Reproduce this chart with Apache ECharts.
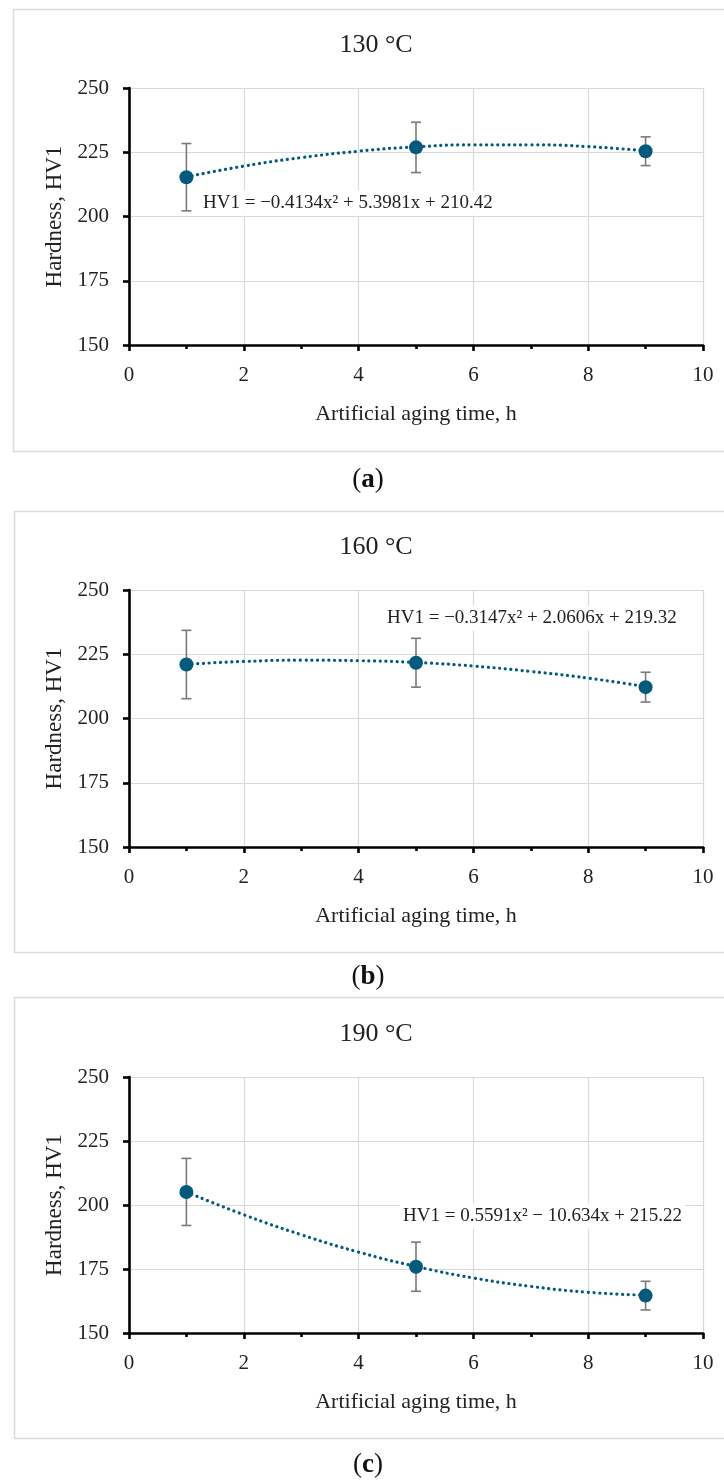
<!DOCTYPE html>
<html>
<head>
<meta charset="utf-8">
<script src="https://cdn.jsdelivr.net/npm/echarts@6/dist/echarts.min.js"></script>
<style>
  html, body { margin: 0; padding: 0; background: #fff; }
  #chart { width: 724px; height: 1481px; }
</style>
</head>
<body>
<div id="chart"></div>
<script>
// measured points (aging time, h)
var times = [1, 5, 9];
var hv130 = [215.3, 226.9, 225.4];
var err130 = [13.1, 9.8, 5.6];
var hv160 = [221.0, 221.7, 212.2];
var err160 = [13.3, 9.5, 5.8];
var hv190 = [205.1, 175.9, 164.6];
var err190 = [13.1, 9.6, 5.6];

// polynomial trendline, x = 1..9
var trendX = [1, 2, 3, 4, 5, 6, 7, 8, 9];
var trend130 = [215.4, 219.6, 222.9, 225.4, 227.1, 227.9, 227.9, 227.2, 225.5];
var trend160 = [221.1, 222.2, 222.7, 222.5, 221.8, 220.4, 218.3, 215.7, 212.4];
var trend190 = [205.1, 196.2, 188.4, 181.6, 176.0, 171.5, 168.2, 165.9, 164.8];

var titles = ['130 °C', '160 °C', '190 °C'];
var captions = ['a', 'b', 'c'];
var equations = [
	'HV1 = −0.4134x² + 5.3981x + 210.42',
	'HV1 = −0.3147x² + 2.0606x + 219.32',
	'HV1 = 0.5591x² − 10.634x + 215.22'
];
var xTicks = [0, 10, 2];   // min, max, interval
var yTicks = [150, 250, 25];

var FONT = '"Liberation Serif", "Times New Roman", serif';
var BLUE = '#035a7d';

var chart = echarts.init(document.getElementById('chart'));

// layout of the three panels
var grids = [
	{ left: 129, top: 88, width: 574, height: 257 },
	{ left: 129, top: 590, width: 574, height: 257 },
	{ left: 129, top: 1077, width: 574, height: 256 }
];
var boxes = [[13.5, 9.5, 442], [14.5, 511.5, 441], [14.5, 997.5, 441]];
var titleY = [45, 547, 1034];
var captionY = [480, 977, 1465];
var eqPos = [[200, 203], [384, 618], [400, 1216]];

var pts = [hv130, hv160, hv190];
var errs = [err130, err160, err190];
var trends = [trend130, trend160, trend190];

function pairs(xs, ys) {
	var out = [];
	for (var i = 0; i < xs.length; i++) out.push([xs[i], ys[i]]);
	return out;
}

function errData(xs, ys, es) {
	var out = [];
	for (var i = 0; i < xs.length; i++) out.push([xs[i], ys[i] - es[i], ys[i] + es[i]]);
	return out;
}

function renderErr(params, api) {
	var lo = api.coord([api.value(0), api.value(1)]);
	var hi = api.coord([api.value(0), api.value(2)]);
	var cap = 5;
	var st = { stroke: '#7a7a7a', lineWidth: 1.6 };
	return {
		type: 'group',
		children: [
			{ type: 'line', shape: { x1: lo[0], y1: lo[1], x2: hi[0], y2: hi[1] }, style: st },
			{ type: 'line', shape: { x1: lo[0] - cap, y1: lo[1], x2: lo[0] + cap, y2: lo[1] }, style: st },
			{ type: 'line', shape: { x1: hi[0] - cap, y1: hi[1], x2: hi[0] + cap, y2: hi[1] }, style: st }
		]
	};
}

var xAxes = [], yAxes = [], series = [], graphics = [];
for (var k = 0; k < 3; k++) {
	xAxes.push({
		type: 'value', gridIndex: k,
		min: xTicks[0], max: xTicks[1], interval: xTicks[2],
		name: 'Artificial aging time, h', nameLocation: 'middle', nameGap: 58,
		nameTextStyle: { fontFamily: FONT, fontSize: 22, color: '#222' },
		axisLine: { onZero: false, lineStyle: { color: '#000', width: 2.6 } },
		axisTick: { show: true, length: 6, lineStyle: { color: '#000', width: 2.6 } },
		minorTick: { show: true, splitNumber: 2, length: 4, lineStyle: { color: '#000', width: 2.6 } },
		axisLabel: { fontFamily: FONT, fontSize: 21, color: '#222', margin: 20 },
		splitLine: { show: true, lineStyle: { color: '#d9d9d9', width: 1.2 } }
	});
	yAxes.push({
		type: 'value', gridIndex: k,
		min: yTicks[0], max: yTicks[1], interval: yTicks[2],
		name: 'Hardness, HV1', nameLocation: 'middle', nameGap: 62,
		nameTextStyle: { fontFamily: FONT, fontSize: 23, color: '#222' },
		axisLine: { show: true, onZero: false, lineStyle: { color: '#000', width: 2.6 } },
		axisTick: { show: true, length: 6, lineStyle: { color: '#000', width: 2.6 } },
		axisLabel: { fontFamily: FONT, fontSize: 21, color: '#222', margin: 20 },
		splitLine: { show: true, lineStyle: { color: '#d9d9d9', width: 1.2 } }
	});
	series.push({
		type: 'line', xAxisIndex: k, yAxisIndex: k,
		data: pairs(trendX, trends[k]),
		smooth: true, showSymbol: false, symbol: 'none', silent: true,
		lineStyle: { color: BLUE, width: 3.2, type: [0.1, 5.6], cap: 'round' },
		z: 2
	});
	series.push({
		type: 'custom', xAxisIndex: k, yAxisIndex: k,
		data: errData(times, pts[k], errs[k]),
		renderItem: renderErr, z: 3
	});
	series.push({
		type: 'scatter', xAxisIndex: k, yAxisIndex: k,
		data: pairs(times, pts[k]),
		symbol: 'circle', symbolSize: 14,
		itemStyle: { color: BLUE, opacity: 1 },
		z: 4
	});

	var b = boxes[k];
	graphics.push({
		type: 'rect', z: 0, silent: true,
		shape: { x: b[0], y: b[1], width: 730, height: b[2] },
		style: { fill: null, stroke: '#dcdcdc', lineWidth: 1.5 }
	});
	graphics.push({
		type: 'text', z: 10,
		style: { text: titles[k], x: 376, y: titleY[k], align: 'center', verticalAlign: 'middle',
			font: '26px ' + FONT, fill: '#222' }
	});
	graphics.push({
		type: 'text', z: 10,
		style: { text: '{p|(}{b|' + captions[k] + '}{p|)}', x: 368, y: captionY[k],
			align: 'center', verticalAlign: 'middle',
			rich: {
				p: { fontFamily: FONT, fontSize: 27, fill: '#111' },
				b: { fontFamily: FONT, fontSize: 27, fontWeight: 'bold', fill: '#111' }
			} }
	});
	graphics.push({
		type: 'text', z: 1,
		style: { text: equations[k], x: eqPos[k][0], y: eqPos[k][1], align: 'left', verticalAlign: 'middle',
			font: '19px ' + FONT, fill: '#222', backgroundColor: '#fff', padding: [3, 3] }
	});
}

var option = {
	backgroundColor: '#fff',
	animation: false,
	grid: grids,
	xAxis: xAxes,
	yAxis: yAxes,
	series: series,
	graphic: graphics
};
chart.setOption(option);
</script>
</body>
</html>
